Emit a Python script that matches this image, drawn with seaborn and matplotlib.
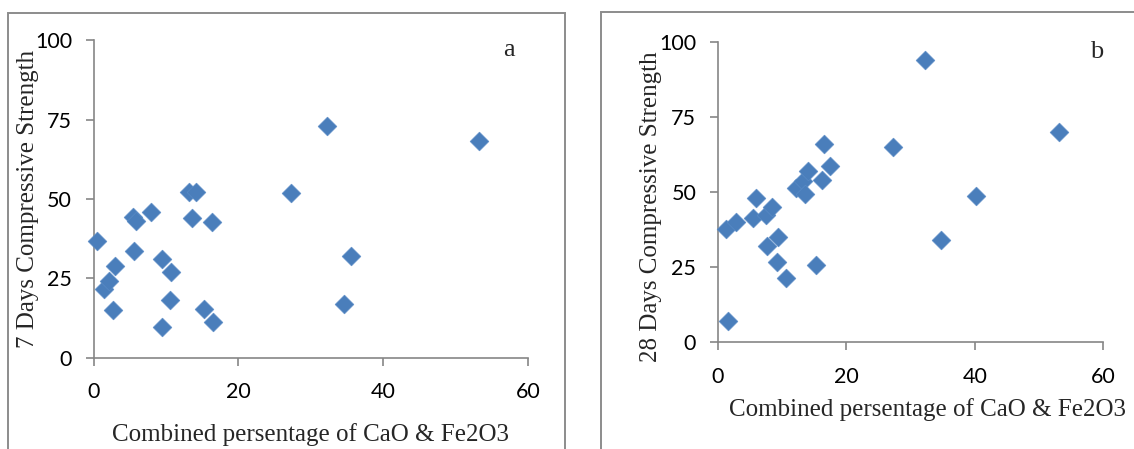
import matplotlib
matplotlib.use("Agg")
import matplotlib.pyplot as plt
import matplotlib.patches as patches
import seaborn as sns
import pandas as pd

# Combined CaO + Fe2O3 (%) vs compressive strength
x_7days = [0.5, 1.4, 2.2, 2.7, 2.9, 5.5, 5.8, 5.6, 8.0, 9.4, 9.4, 10.7,
           10.5, 13.2, 14.2, 13.6, 16.3, 15.2, 16.5, 27.3, 32.2, 34.6, 35.6, 53.2]
y_7days = [36.8, 21.7, 24.1, 15.0, 29.0, 44.4, 43.1, 33.7, 46.0, 31.0, 9.8, 26.9,
           18.2, 52.3, 52.3, 44.0, 42.8, 15.3, 11.2, 51.9, 73.0, 16.9, 32.1, 68.1]

x_28days = [1.6, 1.3, 2.9, 5.5, 5.9, 7.5, 8.4, 7.6, 9.4, 9.3, 10.6, 12.2,
            13.3, 13.6, 14.1, 16.3, 16.5, 17.5, 15.3, 27.3, 32.2, 34.7, 40.2, 53.1]
y_28days = [7.0, 37.9, 40.0, 41.5, 48.1, 42.6, 45.0, 32.2, 35.1, 26.7, 21.5, 51.5,
            53.7, 49.5, 57.0, 54.0, 66.1, 58.7, 25.9, 65.0, 94.0, 34.0, 48.7, 70.2]

x_ticks = [0, 20, 40, 60]
y_ticks = [0, 25, 50, 75, 100]
x_label = "Combined persentage of CaO & Fe2O3"
y_labels = ["7 Days Compressive Strength", "28 Days Compressive Strength"]
panel_tags = ["a", "b"]

sns.set_theme(style="ticks")
plt.rcParams["font.family"] = ["Lato", "DejaVu Sans"]

blue = "#4a7ebb"
axis_grey = "#868686"
serif = ["Liberation Serif", "DejaVu Serif"]

fig = plt.figure(figsize=(11.34, 4.49), dpi=100)

# Panel frames (like the chart area borders of the original)
fig.patches.append(patches.Rectangle((0.0071, -0.02), 0.4911, 0.9917, transform=fig.transFigure,
                                     fill=False, edgecolor="#8c8c8c", linewidth=1.4))
fig.patches.append(patches.Rectangle((0.530, -0.02), 0.49, 0.9926, transform=fig.transFigure,
                                     fill=False, edgecolor="#8c8c8c", linewidth=1.4))

ax_a = fig.add_axes([0.0825, 0.2027, 0.3832, 0.7082])
ax_b = fig.add_axes([0.6329, 0.2376, 0.3400, 0.6682])

datasets = [(x_7days, y_7days), (x_28days, y_28days)]
tag_pos = [(57.4, 96.9), (59.0, 96.9)]

for i, ax in enumerate([ax_a, ax_b]):
    df = pd.DataFrame({"x": datasets[i][0], "y": datasets[i][1]})
    sns.scatterplot(data=df, x="x", y="y", ax=ax, marker="D", s=92,
                    color=blue, edgecolor="#5a8cc6", linewidth=0.4, zorder=3,
                    clip_on=False)
    ax.set_xlim(0, 60)
    ax.set_ylim(0, 100)
    ax.set_xticks(x_ticks)
    ax.set_yticks(y_ticks)
    ax.set_facecolor("white")
    sns.despine(ax=ax)
    for side in ["left", "bottom"]:
        ax.spines[side].set_color(axis_grey)
        ax.spines[side].set_linewidth(1.2)
    ax.tick_params(axis="both", direction="out", length=5.5, width=1.2,
                   color=axis_grey, labelsize=15.5, labelcolor="black")
    ax.tick_params(axis="x", pad=12)
    ax.tick_params(axis="y", pad=10)
    ax.set_xlabel(x_label, fontsize=18, family=serif)
    ax.set_ylabel(y_labels[i], fontsize=18, family=serif)
    ax.text(tag_pos[i][0], tag_pos[i][1], panel_tags[i], fontsize=19, family=serif,
            ha="center", va="center")

ax_a.xaxis.set_label_coords(0.5, -0.205)
ax_b.xaxis.set_label_coords(0.545, -0.185)
ax_a.yaxis.set_label_coords(-0.126, 0.5)
ax_b.yaxis.set_label_coords(-0.144, 0.451)

fig.savefig("out.png", dpi=100)
